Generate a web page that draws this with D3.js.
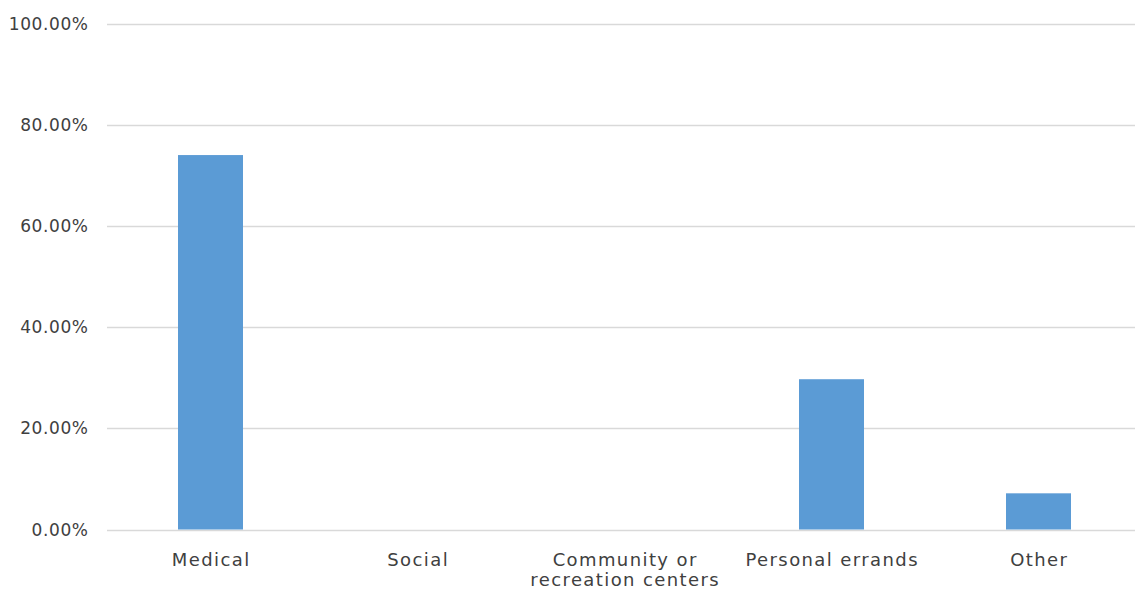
<!DOCTYPE html>
<html>
<head>
<meta charset="utf-8">
<script src="https://cdn.jsdelivr.net/npm/d3@7"></script>
<style>
  body { margin: 0; background: #fff; }
  text { font-family: "DejaVu Sans", sans-serif; fill: #404040; }
</style>
</head>
<body>
<div id="chart"></div>
<script>
const categories = ['Medical', 'Social', 'Community or recreation centers', 'Personal errands', 'Other']
const labelLines = [['Medical'], ['Social'], ['Community or', 'recreation centers'], ['Personal errands'], ['Other']]
const values = [0.74, 0, 0, 0.297, 0.0715]
const yTicks = [0, 0.2, 0.4, 0.6, 0.8, 1.0]

let w = 1135,
  h = 590,
  margin = { top: 23.5, right: -7, bottom: 60.5, left: 107 }

let svg = d3.select('#chart')
  .append('svg')
  .attr('width', w)
  .attr('height', h)

let x = d3.scaleBand()
  .domain(categories)
  .range([margin.left, w - margin.right])
  .paddingInner(0.686)
  .paddingOuter(0.343)

let y = d3.scaleLinear()
  .domain([0, 1])
  .range([h - margin.bottom, margin.top])

// gridlines
svg.append('g')
  .selectAll('line')
  .data(yTicks)
  .enter()
  .append('line')
  .attr('x1', margin.left)
  .attr('x2', w)
  .attr('y1', d => Math.round(y(d)) + 0.5)
  .attr('y2', d => Math.round(y(d)) + 0.5)
  .attr('stroke', '#d9d9d9')
  .attr('stroke-width', 1.5)

// y labels
const pct = d3.format('.2%')
svg.append('g')
  .selectAll('text')
  .data(yTicks)
  .enter()
  .append('text')
  .attr('x', 88.6)
  .attr('y', d => y(d) + 6)
  .attr('text-anchor', 'end')
  .style('font-size', '17px')
  .style('letter-spacing', '0.6px')
  .text(d => pct(d))

// bars
svg.append('g')
  .selectAll('rect')
  .data(values)
  .enter()
  .append('rect')
  .attr('x', (d, i) => x(categories[i]))
  .attr('width', x.bandwidth())
  .attr('y', d => y(d))
  .attr('height', d => y(0) - y(d))
  .attr('fill', '#5b9bd5')

// category labels
labelLines.forEach((lines, i) => {
  let cx = x(categories[i]) + x.bandwidth() / 2 + 0.7
  let t = svg.append('text')
    .attr('text-anchor', 'middle')
    .style('font-size', '18px')
    .style('letter-spacing', '1.4px')
  lines.forEach((line, j) => {
    t.append('tspan')
      .attr('x', cx)
      .attr('y', 566 + j * 20)
      .text(line)
  })
})
</script>
</body>
</html>
